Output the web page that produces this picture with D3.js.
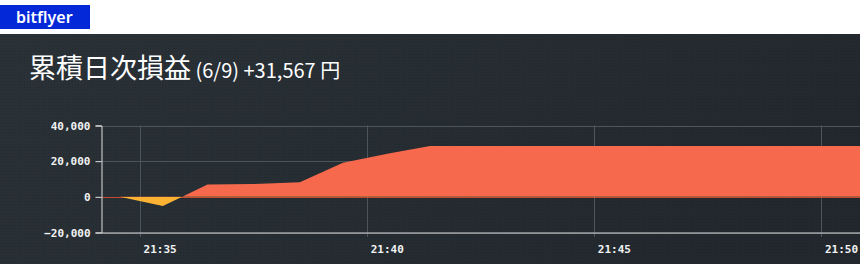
<!DOCTYPE html>
<html>
<head>
<meta charset="utf-8">
<script src="https://cdn.jsdelivr.net/npm/d3@7"></script>
<style>
  html, body { margin: 0; padding: 0; background: #fff; }
  svg { display: block; }
</style>
</head>
<body>
<svg id="chart" width="860" height="264"></svg>
<script>
// ---- data ----
const times = ["21:34:09", "21:34:33", "21:35:30", "21:36:29", "21:37:30", "21:38:31", "21:39:28", "21:40:30", "21:41:23", "21:50:51"];
const values = [0, 0, -5200, 6900, 7200, 8200, 19100, 24500, 28500, 28500];
const yTicks = [-20000, 0, 20000, 40000];
const xTickLabels = ["21:35", "21:40", "21:45", "21:50"];
const badgeText = "bitflyer";
const titleMain = "累積日次損益";
const titleSub = " (6/9) +31,567 円";

const parse = d3.timeParse("%H:%M:%S");
const parseHM = d3.timeParse("%H:%M");
const data = times.map((t, i) => ({ t: parse(t), v: values[i] }));

const W = 860, H = 264;
const svg = d3.select("#chart");
const defs = svg.append("defs");

// background gradient
const grad = defs.append("linearGradient").attr("id", "bg").attr("x1", "0").attr("y1", "0").attr("x2", "1").attr("y2", "0.3");
grad.append("stop").attr("offset", "0").attr("stop-color", "#2a3238");
grad.append("stop").attr("offset", "1").attr("stop-color", "#22282e");
const pat = defs.append("pattern").attr("id", "dots").attr("width", 3).attr("height", 3).attr("patternUnits", "userSpaceOnUse");
pat.append("rect").attr("width", 1).attr("height", 1).attr("fill", "rgba(0,0,0,0.12)");

// header
svg.append("rect").attr("x", 0).attr("y", 0).attr("width", W).attr("height", 34).attr("fill", "#ffffff");
svg.append("rect").attr("x", 0).attr("y", 5).attr("width", 90).attr("height", 24).attr("fill", "#0328d8");
svg.append("text").attr("x", 16).attr("y", 23).attr("fill", "#ffffff")
  .attr("font-family", "'Noto Sans', sans-serif").attr("font-weight", 600).attr("font-size", 16)
  .text(badgeText);

// dark panel
svg.append("rect").attr("x", 0).attr("y", 34).attr("width", W).attr("height", H - 34).attr("fill", "url(#bg)");
svg.append("rect").attr("x", 0).attr("y", 34).attr("width", W).attr("height", H - 34).attr("fill", "url(#dots)");

// title
const title = svg.append("text").attr("x", 29).attr("y", 78).attr("fill", "#ffffff")
  .attr("font-family", "'Noto Sans CJK JP', 'Noto Sans', sans-serif");
title.append("tspan").attr("font-size", 27).text(titleMain);
title.append("tspan").attr("font-size", 20).text(titleSub);

// scales
const x = d3.scaleTime().domain([data[0].t, data[data.length - 1].t]).range([101.5, 860]);
const y = d3.scaleLinear().domain([-20000, 40000]).range([232.5, 125.5]);

const mono = "'DejaVu Sans Mono', monospace";

// gridlines
const g = svg.append("g");
g.selectAll("line.hg").data(yTicks).join("line")
  .attr("x1", 101.5).attr("x2", W).attr("y1", d => Math.round(y(d)) + 0.5).attr("y2", d => Math.round(y(d)) + 0.5)
  .attr("stroke", "#4c555c").attr("stroke-width", 1);
const xTicks = xTickLabels.map(s => parseHM(s));
g.selectAll("line.vg").data(xTicks).join("line")
  .attr("x1", d => Math.round(x(d)) + 0.5).attr("x2", d => Math.round(x(d)) + 0.5)
  .attr("y1", 125.5).attr("y2", 237)
  .attr("stroke", "#4c555c").attr("stroke-width", 1);

// zero line
svg.append("line").attr("x1", 101.5).attr("x2", W).attr("y1", Math.round(y(0)) + 0.5).attr("y2", Math.round(y(0)) + 0.5)
  .attr("stroke", "#c24a32").attr("stroke-width", 1);

// areas with clipping
const y0 = y(0);
defs.append("clipPath").attr("id", "above").append("rect").attr("x", 0).attr("y", 0).attr("width", W).attr("height", y0);
defs.append("clipPath").attr("id", "below").append("rect").attr("x", 0).attr("y", y0).attr("width", W).attr("height", H - y0);
const area = d3.area().x(d => x(d.t)).y0(y0).y1(d => y(d.v));
svg.append("path").datum(data).attr("d", area).attr("fill", "#f6694c").attr("clip-path", "url(#above)");
svg.append("path").datum(data).attr("d", area).attr("fill", "#fcb232").attr("clip-path", "url(#below)");

// y axis
const yAxis = d3.axisLeft(y).tickValues(yTicks).tickFormat(d3.format(",")).tickSize(6).tickPadding(5);
const ya = svg.append("g").attr("transform", "translate(101.5,0)").call(yAxis);
ya.select(".domain").attr("stroke", "#e0e0e0");
ya.selectAll(".tick line").attr("stroke", "#e0e0e0");
ya.selectAll(".tick text").attr("fill", "#f2f2f2").attr("font-family", mono).attr("font-size", 11).attr("font-weight", "bold");

// x axis
const xAxis = d3.axisBottom(x).tickValues(xTicks).tickFormat(d3.timeFormat("%H:%M")).tickSize(0).tickSizeOuter(0);
const xa = svg.append("g").attr("transform", "translate(0,232.5)").call(xAxis);
xa.select(".domain").attr("stroke", "#d8d8d8");
xa.selectAll(".tick text").attr("fill", "#f2f2f2").attr("font-family", mono).attr("font-size", 11).attr("font-weight", "bold")
  .attr("text-anchor", "start").attr("dx", 3).attr("y", 0).attr("dy", 20);
</script>
</body>
</html>
